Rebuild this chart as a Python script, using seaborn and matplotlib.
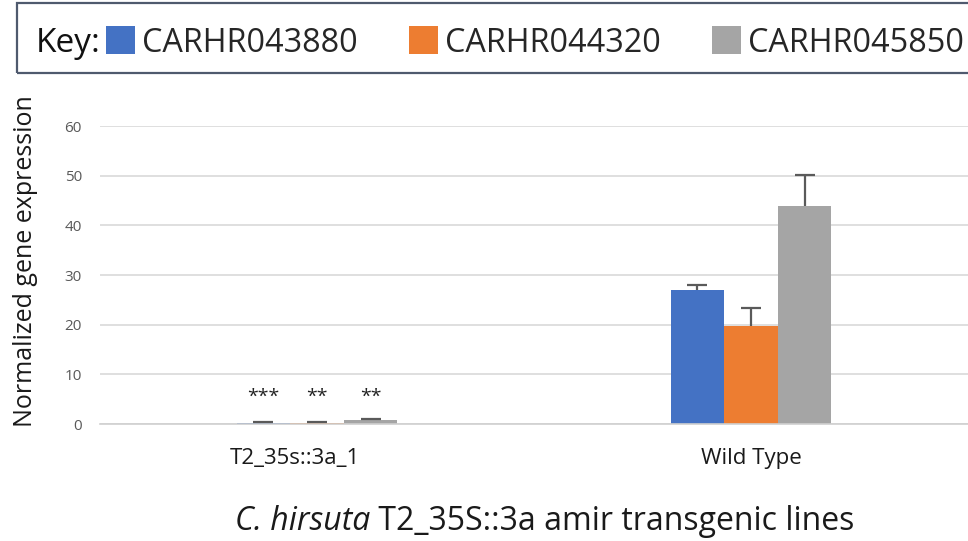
import numpy as np
import pandas as pd
import matplotlib
matplotlib.use("Agg")
import matplotlib.pyplot as plt
from matplotlib.patches import Rectangle, Patch
from matplotlib.transforms import ScaledTranslation
import seaborn as sns

lines = ["T2_35s::3a_1", "Wild Type"]
genes = ["CARHR043880", "CARHR044320", "CARHR045850"]
expr_043880 = [0.2, 27.0]
expr_044320 = [0.2, 19.7]
expr_045850 = [0.8, 43.8]
err_043880 = [0.15, 0.9]
err_044320 = [0.15, 3.7]
err_045850 = [0.3, 6.3]
stars = ["***", "**", "**"]
yticks = [0, 10, 20, 30, 40, 50, 60]
colors = ["#4472C4", "#ED7D31", "#A5A5A5"]

sns.set_theme(style="white")
plt.rcParams["font.family"] = ["Open Sans", "DejaVu Sans"]

values = [expr_043880, expr_044320, expr_045850]
errors = [err_043880, err_044320, err_045850]
df = pd.DataFrame({
    "line": [l for g in genes for l in lines],
    "gene": [g for g in genes for _ in lines],
    "expr": [v for vals in values for v in vals],
})

fig = plt.figure(figsize=(9.68, 5.41), dpi=100)
ax = fig.add_axes([100 / 968, 1 - 424 / 541, 868 / 968, (424 - 126) / 541])

sns.barplot(data=df, x="line", y="expr", hue="gene", order=lines,
            hue_order=genes, palette=colors, width=0.37, errorbar=None,
            saturation=1, ax=ax, legend=False, linewidth=0)

# upper error bars and significance marks
bar_groups = list(ax.containers)
for gi, cont in enumerate(bar_groups):
    for li, bar in enumerate(cont.patches):
        xc = bar.get_x() + bar.get_width() / 2
        h = bar.get_height()
        _, caps, _ = ax.errorbar(xc, h, yerr=[[0], [errors[gi][li]]],
                                 fmt="none", ecolor="#5a5a5a",
                                 elinewidth=1.6, capsize=7, capthick=1.6,
                                 zorder=3)
        caps[0].set_visible(False)
        if li == 0:
            ax.text(xc, 3.6, stars[gi], ha="center", va="bottom",
                    fontsize=14, color="#222222")

ax.set_xlim(-0.5, 1.5)
ax.set_ylim(0, 60)
ax.set_yticks(yticks)
ax.yaxis.grid(True, color="#d9d9d9", linewidth=1.2)
ax.set_axisbelow(True)
for s in ["top", "right", "left"]:
    ax.spines[s].set_visible(False)
ax.spines["bottom"].set_color("#d0d0d0")
ax.spines["bottom"].set_linewidth(1.2)
ax.tick_params(axis="y", labelsize=11, colors="#595959", length=0, pad=13)
ax.tick_params(axis="x", labelsize=16, colors="#1a1a1a", length=0, pad=17)
first = ax.get_xticklabels()[0]
first.set_transform(first.get_transform()
                    + ScaledTranslation(-0.22, 0, fig.dpi_scale_trans))
ax.set_xlabel("")
ax.set_ylabel("Normalized gene expression", fontsize=18, color="#1a1a1a")
ax.yaxis.set_label_coords(-0.071, 0.545)

# axis title: italic species name followed by upright text
renderer = fig.canvas.get_renderer()
title_y = 1 - 521 / 541
t1 = fig.text(0, title_y, "C. hirsuta", style="italic", ha="left",
              va="center", fontsize=23, color="#1a1a1a")
t2 = fig.text(0, title_y, " T2_35S::3a amir transgenic lines", ha="left",
              va="center", fontsize=23, color="#1a1a1a")
w1 = t1.get_window_extent(renderer).width / fig.bbox.width
w2 = t2.get_window_extent(renderer).width / fig.bbox.width
x0 = 545 / 968 - (w1 + w2) / 2
t1.set_x(x0)
t2.set_x(x0 + w1)

# key box across the top
fig.patches.append(Rectangle((17 / 968, 1 - 73 / 541), 1.0, 70 / 541,
                             transform=fig.transFigure, fill=False,
                             edgecolor="#4f5a6e", linewidth=1.6))
fig.text(36 / 968, 1 - 43 / 541, "Key:", ha="left", va="center",
         fontsize=24, color="#111111")
handles = [Patch(facecolor=c, edgecolor="none") for c in colors]
fig.legend(handles, genes, loc="center left",
           bbox_to_anchor=(106 / 968, 1 - 43 / 541), ncol=3, frameon=False,
           fontsize=23.3, handlelength=0.9, handleheight=0.95,
           handletextpad=0.2, columnspacing=1.6, borderaxespad=0,
           borderpad=0)

fig.savefig("out.png", dpi=100)
